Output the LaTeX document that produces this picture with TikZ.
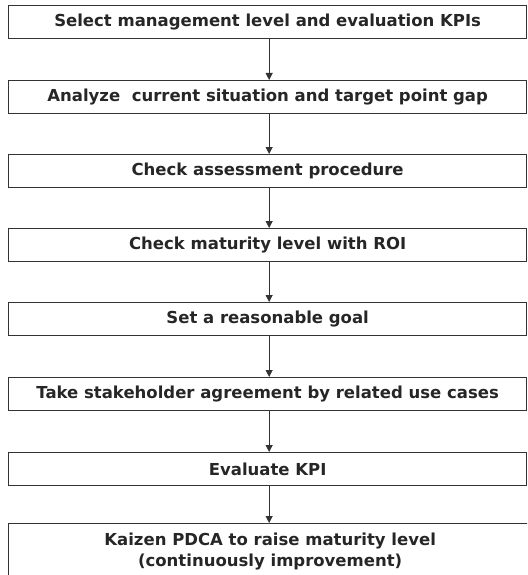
\documentclass[tikz,border=0pt]{standalone}
\usepackage{fontspec}
\setmainfont{DejaVu Sans}[BoldFont={DejaVu Sans Bold}]
\usetikzlibrary{arrows.meta}
\begin{document}
\begin{tikzpicture}[x=1pt,y=-1pt,
  stepbox/.style={draw=black!80, line width=1.3pt, minimum width=518pt,
    minimum height=33pt, inner sep=0pt, anchor=north west, align=center,
    font=\bfseries\fontsize{16.5}{21}\selectfont, text=black!85},
  flow/.style={draw=black!80, line width=0.8pt,
    -{Triangle[width=7pt,length=7pt]}}]
\useasboundingbox (0,0) rectangle (527,575);
\clip (0,0) rectangle (527,575);
\node[stepbox] (s1) at (8,5)   {Select management level and evaluation KPIs};
\node[stepbox] (s2) at (8,80)  {Analyze\ \ current situation and target point gap};
\node[stepbox] (s3) at (8,154) {Check assessment procedure};
\node[stepbox] (s4) at (8,228) {Check maturity level with ROI};
\node[stepbox] (s5) at (8,302) {Set a reasonable goal};
\node[stepbox] (s6) at (8,377) {Take stakeholder agreement by related use cases};
\node[stepbox] (s7) at (8,452) {Evaluate KPI};
% last step runs past the right and lower edges of the sheet
\node[stepbox, minimum width=523pt, text height=43pt, text depth=24pt] (s8) at (8,523)
  {Kaizen PDCA to raise maturity level\\(continuously improvement)};
\foreach \a/\b in {s1/s2,s2/s3,s3/s4,s4/s5,s5/s6,s6/s7}
  \draw[flow] ([xshift=1.5pt]\a.south) -- ([xshift=1.5pt]\b.north);
\draw[flow] ([xshift=1.5pt]s7.south) -- ([xshift=-1pt]s8.north);
\end{tikzpicture}
\end{document}
